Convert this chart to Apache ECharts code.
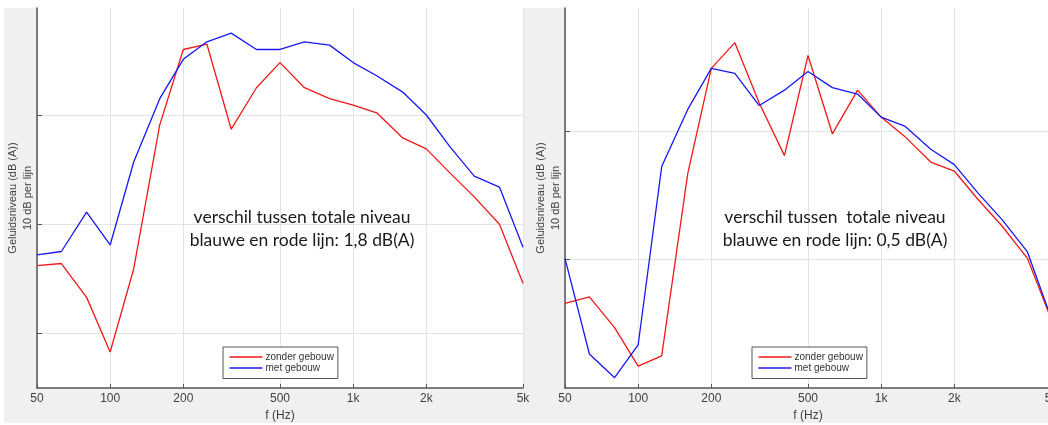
<!DOCTYPE html>
<html>
<head>
<meta charset="utf-8">
<script src="https://cdn.jsdelivr.net/npm/echarts@6/dist/echarts.min.js"></script>
<style>
html,body{margin:0;padding:0;background:#fff;}
#c{width:1048px;height:425px;}
</style>
</head>
<body>
<div id="c"></div>
<script>
// Third-octave band centre frequencies (Hz)
const freqs = [50, 63, 80, 100, 125, 160, 200, 250, 315, 400, 500, 630, 800, 1000, 1250, 1600, 2000, 2500, 3150, 4000, 5000];
// Left panel (dB, arbitrary offset; 10 dB per grid line)
const leftZonder = [16.2, 16.4, 13.3, 8.3, 15.9, 29.1, 36.0, 36.5, 28.7, 32.5, 34.8, 32.5, 31.5, 30.9, 30.2, 27.9, 26.9, 24.7, 22.5, 20.0, 14.6];
const leftMet    = [17.2, 17.5, 21.1, 18.1, 25.7, 31.5, 35.1, 36.7, 37.5, 36.0, 36.0, 36.7, 36.4, 34.8, 33.6, 32.1, 30.0, 27.1, 24.4, 23.4, 17.9];
// Right panel
const rightZonder = [6.6, 7.1, 4.7, 1.7, 2.5, 16.7, 24.9, 26.9, 22.2, 18.1, 25.9, 19.8, 23.2, 21.1, 19.6, 17.6, 16.9, 14.7, 12.6, 10.1, 5.4];
const rightMet    = [10.1, 2.65, 0.8, 3.35, 17.25, 21.7, 24.9, 24.5, 22.0, 23.2, 24.65, 23.4, 22.9, 21.1, 20.4, 18.6, 17.4, 15.2, 13.1, 10.6, 5.5];
// Tick values
const xTicks = [50, 100, 200, 500, 1000, 2000, 5000];
const leftYTicks = [10, 20, 30];
const rightYTicks = [10, 20];
const seriesNames = ['zonder gebouw', 'met gebouw'];
const notes = [
  'verschil tussen totale niveau\nblauwe en rode lijn: 1,8 dB(A)',
  'verschil tussen  totale niveau\nblauwe en rode lijn: 0,5 dB(A)'
];
const yName = 'Geluidsniveau (dB (A))\n10 dB per lijn';

const pairs = (ys) => freqs.map((f, i) => [f, ys[i]]);
const axisCol = '#555';
const labCol = '#404040';
const gridCol = '#e3e3e3';
const fmt = (v) => v >= 1000 ? (v / 1000) + 'k' : String(v);

function xAxis(gridIndex) {
  return {
    type: 'log', logBase: 10, gridIndex, min: 50, max: 5000,
    name: 'f (Hz)', nameLocation: 'middle', nameGap: 20,
    nameTextStyle: {color: labCol, fontSize: 12, fontFamily: 'Liberation Sans'},
    axisLine: {show: true, lineStyle: {color: axisCol, width: 1.5}},
    axisTick: {show: true, inside: true, length: 4, customValues: xTicks, lineStyle: {color: axisCol}},
    axisLabel: {show: true, customValues: xTicks, formatter: fmt, margin: 5, color: labCol, fontSize: 12, fontFamily: 'Liberation Sans', showMinLabel: true, showMaxLabel: true},
    minorTick: {show: false}, minorSplitLine: {show: false},
    splitLine: {show: true, lineStyle: {color: gridCol, width: 1}}
  };
}
function yAxis(gridIndex, min, max, ticks) {
  return {
    type: 'value', gridIndex, min, max,
    name: yName, nameLocation: 'middle', nameGap: 2, nameRotate: 90,
    nameTextStyle: {color: labCol, fontSize: 11, lineHeight: 15, fontFamily: 'Liberation Sans', verticalAlign: 'bottom'},
    axisLine: {show: true, lineStyle: {color: axisCol, width: 1.5}},
    axisTick: {show: true, inside: true, length: 5, customValues: ticks, lineStyle: {color: axisCol}},
    axisLabel: {show: false, customValues: ticks},
    splitLine: {show: true, lineStyle: {color: gridCol, width: 1}}
  };
}
function line(name, data, idx, color) {
  return {
    type: 'line', name, data: pairs(data), xAxisIndex: idx, yAxisIndex: idx,
    showSymbol: false, symbol: 'none', lineStyle: {color, width: 1.3}, itemStyle: {color},
    emphasis: {disabled: true}, z: 3
  };
}
function legend(left) {
  return {
    data: seriesNames, orient: 'vertical', left, top: 347,
    icon: 'rect', itemWidth: 33, itemHeight: 1.5, itemGap: 0,
    padding: [4.5, 4, 5, 6.5],
    backgroundColor: '#fff', borderColor: '#555', borderWidth: 1, borderRadius: 0,
    selectedMode: false,
    textStyle: {fontSize: 10, lineHeight: 11, color: '#333', fontFamily: 'Liberation Sans', padding: [0, 0, 0, -2]}
  };
}

const chart = echarts.init(document.getElementById('c'), null, {renderer: 'canvas'});
chart.setOption({
  animation: false,
  backgroundColor: 'transparent',
  graphic: [
    {type: 'rect', shape: {x: 4, y: 8, width: 1044, height: 415}, style: {fill: '#f0f0f0'}, z: -10, silent: true},
    {type: 'text', x: 302, y: 206, z: 10, style: {text: notes[0], textAlign: 'center', textVerticalAlign: 'top', fontSize: 17.5, lineHeight: 23, fontFamily: 'Lato', fill: '#1a1a1a'}},
    {type: 'text', x: 835, y: 206, z: 10, style: {text: notes[1], textAlign: 'center', textVerticalAlign: 'top', fontSize: 17.5, lineHeight: 23, fontFamily: 'Lato', fill: '#1a1a1a'}}
  ],
  grid: [
    {left: 37, top: 8, width: 486, height: 380, show: true, backgroundColor: '#fff', borderWidth: 0, containLabel: false, outerBoundsMode: 'none'},
    {left: 565, top: 8, width: 486, height: 380, show: true, backgroundColor: '#fff', borderWidth: 0, containLabel: false, outerBoundsMode: 'none'}
  ],
  xAxis: [xAxis(0), xAxis(1)],
  yAxis: [yAxis(0, 5, 39.8, leftYTicks), yAxis(1, 0, 29.6, rightYTicks)],
  legend: [legend(223), legend(752)],
  series: [
    line(seriesNames[0], leftZonder, 0, '#f01818'),
    line(seriesNames[1], leftMet, 0, '#1818f5'),
    line(seriesNames[0], rightZonder, 1, '#f01818'),
    line(seriesNames[1], rightMet, 1, '#1818f5')
  ]
});
</script>
</body>
</html>
